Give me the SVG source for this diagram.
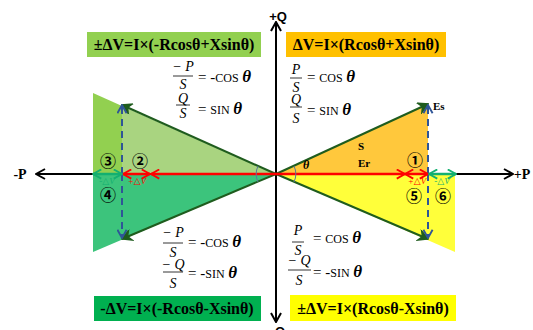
<svg xmlns="http://www.w3.org/2000/svg" width="533" height="330" viewBox="0 0 533 330">
<style>
.ax{stroke:#000;stroke-width:2;fill:none}
.dg{stroke:#1f5c1e;stroke-width:2;fill:none}
.rd{stroke:#ff0000;stroke-width:2.5;fill:none}
.gr{stroke:#13b070;stroke-width:2.5;fill:none}
.bl{stroke:#2f5597;stroke-width:2;stroke-dasharray:7,5;fill:none}
.arc{stroke:#5a7a9a;stroke-width:1;fill:none}
.eq{font-family:"Liberation Serif",serif;font-weight:bold;font-size:16px;text-anchor:middle;fill:#000}
.fr{font-family:"Liberation Serif",serif;font-style:italic;font-size:14px;text-anchor:middle;fill:#000}
.fl{stroke:#000;stroke-width:0.8}
.rhs{font-family:"Liberation Serif",serif;font-size:15px;fill:#000}
.sc{font-size:12px}
.th{font-style:italic;font-weight:bold;font-size:17px}
.cn{font-family:"Noto Sans CJK JP","DejaVu Sans",sans-serif;font-weight:bold;font-size:16px;text-anchor:middle;fill:#000}
.dv{font-family:"Liberation Serif","DejaVu Serif",serif;font-style:italic;font-size:9px;text-anchor:middle}
.lb{font-family:"Liberation Serif",serif;font-weight:bold;font-size:11px;fill:#000}
</style>
<defs>
<marker id="ka" viewBox="0 0 12 12" refX="11" refY="6" markerWidth="12" markerHeight="12" markerUnits="userSpaceOnUse" orient="auto-start-reverse"><path d="M2,1 L11,6 L2,11" fill="none" stroke="#000" stroke-width="2"/></marker>
<marker id="ga" viewBox="0 0 12 12" refX="11" refY="6" markerWidth="12" markerHeight="12" markerUnits="userSpaceOnUse" orient="auto-start-reverse"><path d="M2,1 L11,6 L2,11 L5,6 Z" fill="#1f5c1e" stroke="#1f5c1e" stroke-width="1.5"/></marker>
<marker id="ra" viewBox="0 0 12 12" refX="11" refY="6" markerWidth="11" markerHeight="11" markerUnits="userSpaceOnUse" orient="auto-start-reverse"><path d="M2,1 L11,6 L2,11" fill="none" stroke="#ff0000" stroke-width="2"/></marker>
<marker id="gg" viewBox="0 0 12 12" refX="11" refY="6" markerWidth="11" markerHeight="11" markerUnits="userSpaceOnUse" orient="auto-start-reverse"><path d="M2,1 L11,6 L2,11" fill="none" stroke="#13b070" stroke-width="2"/></marker>
<marker id="ba" viewBox="0 0 12 12" refX="11" refY="6" markerWidth="11" markerHeight="11" markerUnits="userSpaceOnUse" orient="auto-start-reverse"><path d="M2,1 L11,6 L2,11" fill="none" stroke="#2f5597" stroke-width="2"/></marker>
</defs>
<rect width="533" height="330" fill="#fff"/>

<g id="regions">
<polygon points="276,174 428,104 428,174" fill="#ffc83c"/>
<polygon points="276,174 455,174 455,252 276,174" fill="#ffff3a"/>
<polygon points="93,93 122,106 122,174 93,174" fill="#92d050"/>
<polygon points="276,174 122,106 122,174" fill="#a9d480"/>
<polygon points="276,174 93,174 93,252" fill="#3cc47c"/>
</g>

<g id="connectors">
<line class="ax" x1="276" y1="174" x2="36" y2="174" marker-end="url(#ka)"/>
<line class="ax" x1="276" y1="174" x2="513" y2="174" marker-end="url(#ka)"/>
<line class="ax" x1="276" y1="174" x2="276" y2="22" marker-end="url(#ka)"/>
<line class="ax" x1="276" y1="174" x2="276" y2="322" marker-end="url(#ka)"/>
<line class="dg" x1="276" y1="174" x2="428" y2="104" marker-end="url(#ga)"/>
<line class="dg" x1="276" y1="174" x2="428" y2="239" marker-end="url(#ga)"/>
<line class="dg" x1="276" y1="174" x2="122" y2="105" marker-end="url(#ga)"/>
<line class="dg" x1="276" y1="174" x2="122" y2="239" marker-end="url(#ga)"/>
<line class="bl" x1="428" y1="174" x2="428" y2="105" marker-end="url(#ba)"/>
<line class="bl" x1="428" y1="174" x2="428" y2="238" marker-end="url(#ba)"/>
<line class="bl" x1="122" y1="174" x2="122" y2="105" marker-end="url(#ba)"/>
<line class="bl" x1="122" y1="174" x2="122" y2="238" marker-end="url(#ba)"/>
<line class="rd" x1="276" y1="174" x2="405" y2="174" marker-end="url(#ra)"/>
<line class="rd" x1="405" y1="174" x2="428" y2="174" marker-start="url(#ra)" marker-end="url(#ra)"/>
<line class="rd" x1="276" y1="174" x2="151" y2="174" marker-end="url(#ra)"/>
<line class="rd" x1="123" y1="174" x2="150" y2="174" marker-start="url(#ra)" marker-end="url(#ra)"/>
<line class="gr" x1="93" y1="174" x2="122" y2="174" marker-start="url(#gg)" marker-end="url(#gg)"/>
<line class="gr" x1="429" y1="174" x2="456" y2="174" marker-start="url(#gg)" marker-end="url(#gg)"/>
<path class="arc" d="M294,166 A19,19 0 0 1 294,182"/>
<path class="arc" d="M258,166 A19,19 0 0 0 258,182"/>
</g>

<g id="axis-labels">
<text x="278" y="21" font-family="Liberation Sans,sans-serif" font-weight="bold" font-size="13" text-anchor="middle">+Q</text>
<text x="278" y="336" font-family="Liberation Sans,sans-serif" font-weight="bold" font-size="13" text-anchor="middle">-Q</text>
<text x="20" y="179" font-family="Liberation Serif,serif" font-weight="bold" font-size="14" text-anchor="middle">-P</text>
<text x="522" y="179" font-family="Liberation Serif,serif" font-weight="bold" font-size="14" text-anchor="middle">+P</text>
</g>

<g id="vector-labels">
<text class="lb" x="433" y="110" font-size="10">Es</text>
<text class="lb" x="358" y="150">S</text>
<text class="lb" x="358" y="167">Er</text>
<text x="306" y="169" font-family="Liberation Serif,serif" font-style="italic" font-weight="bold" font-size="12" text-anchor="middle">θ</text>
</g>

<g id="zone-labels">
<text class="cn" x="108" y="167">③</text>
<text class="cn" x="140" y="167">②</text>
<text class="cn" x="108" y="201">④</text>
<text class="cn" x="415" y="166">①</text>
<text class="cn" x="414" y="202">⑤</text>
<text class="cn" x="443" y="202">⑥</text>
<text class="dv" x="107" y="184" fill="#13b070">-△V</text>
<text class="dv" x="137" y="184" fill="#ff0000">+△V</text>
<text class="dv" x="417" y="184" fill="#ff0000">+△V</text>
<text class="dv" x="442" y="184" fill="#13b070">-△V</text>
</g>

<g id="box-tl">
<rect x="87" y="32" width="174" height="25" fill="#92d050"/>
<text class="eq" x="174" y="50">±ΔV=I×(-Rcosθ+Xsinθ)</text>
</g>
<g id="box-tr">
<rect x="286" y="32" width="160" height="25" fill="#ffc000"/>
<text class="eq" x="366" y="50">ΔV=I×(Rcosθ+Xsinθ)</text>
</g>
<g id="box-bl">
<rect x="94" y="296" width="167" height="25" fill="#00b050"/>
<text class="eq" x="177" y="314">-ΔV=I×(-Rcosθ-Xsinθ)</text>
</g>
<g id="box-br">
<rect x="290" y="295" width="166" height="26" fill="#ffff00"/>
<text class="eq" x="373" y="314">±ΔV=I×(Rcosθ-Xsinθ)</text>
</g>

<g id="eq-tl">
<text class="fr" x="183" y="71">− P</text>
<line class="fl" x1="173" y1="76" x2="193" y2="76"/>
<text class="fr" x="183" y="89">S</text>
<text class="rhs" x="198" y="82">= -<tspan class="sc">COS</tspan> <tspan class="th">θ</tspan></text>
<text class="fr" x="183" y="103">Q</text>
<line class="fl" x1="176" y1="105" x2="190" y2="105"/>
<text class="fr" x="183" y="118">S</text>
<text class="rhs" x="198" y="114">= <tspan class="sc">SIN</tspan> <tspan class="th">θ</tspan></text>
</g>

<g id="eq-tr">
<text class="fr" x="296" y="74">P</text>
<line class="fl" x1="290" y1="78" x2="302" y2="78"/>
<text class="fr" x="296" y="92">S</text>
<text class="rhs" x="307" y="82">= <tspan class="sc">COS</tspan> <tspan class="th">θ</tspan></text>
<text class="fr" x="296" y="104">Q</text>
<line class="fl" x1="290" y1="107" x2="302" y2="107"/>
<text class="fr" x="296" y="123">S</text>
<text class="rhs" x="307" y="115">= <tspan class="sc">SIN</tspan> <tspan class="th">θ</tspan></text>
</g>

<g id="eq-bl">
<text class="fr" x="173" y="237">− P</text>
<line class="fl" x1="163" y1="243" x2="183" y2="243"/>
<text class="fr" x="173" y="257">S</text>
<text class="rhs" x="188" y="247">= -<tspan class="sc">COS</tspan> <tspan class="th">θ</tspan></text>
<text class="fr" x="173" y="269">− Q</text>
<line class="fl" x1="163" y1="272" x2="183" y2="272"/>
<text class="fr" x="173" y="288">S</text>
<text class="rhs" x="188" y="278">= -<tspan class="sc">SIN</tspan> <tspan class="th">θ</tspan></text>
</g>

<g id="eq-br">
<text class="fr" x="298" y="235">P</text>
<line class="fl" x1="292" y1="242" x2="304" y2="242"/>
<text class="fr" x="298" y="255">S</text>
<text class="rhs" x="313" y="243">= <tspan class="sc">COS</tspan> <tspan class="th">θ</tspan></text>
<text class="fr" x="299" y="265">− Q</text>
<line class="fl" x1="288" y1="270" x2="311" y2="270"/>
<text class="fr" x="299" y="285">S</text>
<text class="rhs" x="313" y="277">= -<tspan class="sc">SIN</tspan> <tspan class="th">θ</tspan></text>
</g>
</svg>
